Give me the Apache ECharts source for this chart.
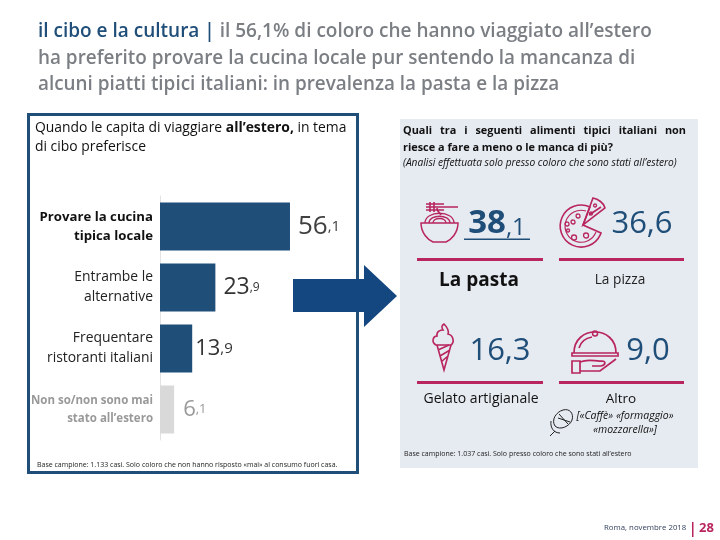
<!DOCTYPE html>
<html><head><meta charset="utf-8">
<script src="https://cdn.jsdelivr.net/npm/echarts@6/dist/echarts.min.js"></script>
<style>html,body{margin:0;padding:0;background:#fff}#c{width:720px;height:540px}</style>
</head><body><div id="c"></div>
<script>
const categories = ["Provare la cucina\ntipica locale","Entrambe le\nalternative","Frequentare\nristoranti italiani","Non so/non sono mai\nstato all’estero"];
const shareValues = [56.1,23.9,13.9,6.1];
const foodNames = ["La pasta","La pizza","Gelato artigianale","Altro"];
const foodValues = [38.1,36.6,16.3,9.0];
const titleLines = ["ha preferito provare la cucina locale pur sentendo la mancanza di","alcuni piatti tipici italiani: in prevalenza la pasta e la pizza"];

const NAVY='#1F4E79', PINK='#B8255F', FONT='"Open Sans"';
const it = v => v.toFixed(1).split('.');
const chart = echarts.init(document.getElementById('c'),null,{renderer:'canvas'});

const T=(x,y,text,size,fill,o={})=>({type:'text',x,y,z:5,style:Object.assign({text,fontFamily:FONT,fontSize:size,fill,align:o.align||'left',verticalAlign:'middle',fontWeight:o.weight||'normal',fontStyle:o.style||'normal'},o.extra||{})});
const P=(d,stroke,lw,fill)=>({type:'path',shape:{pathData:d},style:{stroke:stroke||'none',lineWidth:lw||1.4,fill:fill||'none'}});
const R=(x,y,w,h,fill,z)=>({type:'rect',z:z||1,shape:{x,y,width:w,height:h},style:{fill}});

const mctx=document.createElement('canvas').getContext('2d');
function justify(line,x0,x1,y,size,weight){
  mctx.font=weight+' '+size+'px "Open Sans"';
  const w=line.split(' ');const tot=w.reduce((a,s)=>a+mctx.measureText(s).width,0);
  const gap=(x1-x0-tot)/(w.length-1);let x=x0;
  return w.map(s=>{const e=T(x,y,s,size,'#111',{weight});x+=mctx.measureText(s).width+gap;return e;});
}
function bigNum(x,y,v,size,small,weight){
  const p=it(v);
  return {type:'text',x,y,z:5,style:{text:'{a|'+p[0]+'}{b|,'+p[1]+'}',align:'center',verticalAlign:'middle',rich:{
    a:{fontFamily:FONT,fontSize:size,fill:NAVY,fontWeight:weight||'normal',verticalAlign:'bottom'},
    b:{fontFamily:FONT,fontSize:small,fill:NAVY,verticalAlign:'bottom'}}}};
}

const valueRich={};
[[26,15,'#404040'],[23,12,'#333333'],[22,15,'#333333'],[22,13,'#999999']].forEach((s,i)=>{
  valueRich['a'+i]={fontFamily:FONT,fontSize:s[0],color:s[2]};
  valueRich['s'+i]={fontFamily:FONT,fontSize:s[1],color:s[2]};
});
const labelGaps=[8,8,3,9];

const icons=[
  P('M293 279 H364 V265 L397 296 L364 327 V312 H293 Z',null,0,'#14467F'),
  // pasta
  P('M426 204 H444 M426 207 H458 M426 210 H444 M430 202 V212 M434 202 V212 M437 208 C437 212 440 213 441 215',PINK,1.6),
  P('M421 223 H458 C458 233 451 240 446 242 H433 C428 240 421 233 421 223 Z',PINK,1.5),
  P('M425 223 C425 210 454 210 454 223 M429 223 C429 214 450 214 450 223 M433 223 C433 217 446 217 446 223',PINK,1.3),
  // pizza
  P('M590 207 A21 21 0 1 0 601 233 L583 225 Z',PINK,1.6),
  P('M586 211 A16 16 0 1 0 596 232',PINK,1.1),
  P('M583 225 L593 198 C598 199 604 203 605 208 Z M589 215 L601 207',PINK,1.6),
  P('M567 222 a2 2 0 1 0 .1 0 M574 235 a2.5 2.5 0 1 0 .1 0 M586 233 a2.5 2.5 0 1 0 .1 0 M573 220 a2 2 0 1 0 .1 0 M578 214 a2 2 0 1 0 .1 0 M568 229 a1.5 1.5 0 1 0 .1 0 M595 204 a1.5 1.5 0 1 0 .1 0 M591 212 a1.5 1.5 0 1 0 .1 0',PINK,1.3),
  // ice cream
  P('M437 345 L444 370 L451 345 M438 350 L449 345 M440 356 L450 350 M441 362 L448 356',PINK,1.6),
  P('M436 345 C431 342 433 336 437 336 C436 331 441 330 443 330 C441 327 442 325 444 324 C447 327 449 331 448 334 C453 335 455 342 451 345 Z',PINK,1.6),
  // cloche
  P('M574 353 C574 325 616 325 616 353 M579 348 C581 341 586 338 592 337',PINK,1.7),
  P('M572 353 H618 V356 H572 Z',PINK,1.7),
  P('M595 331 a2.5 2.5 0 1 0 .1 0',PINK,1.5),
  P('M572 361 H580 V373 H572 Z M580 362 C590 358 595 362 602 361 C606 361 606 365 601 366 H592 M580 371 H600 L616 359',PINK,1.7),
  // mic
  P('M555 426 C551 420 556 412 563 410 C570 408 574 414 572 420 C570 426 560 431 555 426 Z M558 418 L570 422 M559 414 L568 424',"#222",1),
  P('M551 421 C550 428 554 433 560 433 M555 431 L550 436',"#222",1)
];

const option={
  animation:false,
  backgroundColor:'#fff',
  grid:{left:160,top:196,width:231.7,height:244},
  xAxis:{type:'value',min:0,max:100,show:false},
  yAxis:{type:'category',inverse:true,data:categories,
    axisTick:{show:false},
    axisLine:{show:true,lineStyle:{color:'#E3E3E3',width:1}},
    axisLabel:{margin:7,align:'right',
      formatter:(v,i)=>v.split('\n').map(l=>'{'+(i===0?'b':i===3?'g':'n')+'|'+l+'}').join('\n'),
      rich:{
        b:{fontFamily:FONT,fontSize:13.2,fontWeight:'bold',color:'#111',lineHeight:19},
        n:{fontFamily:FONT,fontSize:13.9,color:'#222',lineHeight:20},
        g:{fontFamily:FONT,fontSize:11.5,fontWeight:'bold',color:'#999',lineHeight:18}
      }}},
  series:[{type:'bar',barWidth:48,z:3,
    data:shareValues.map((v,i)=>({value:v,itemStyle:{color:i===3?'#D9D9D9':NAVY},label:{distance:labelGaps[i]}})),
    label:{show:true,position:'right',rich:valueRich,
      formatter:p=>{const s=it(p.value);return '{a'+p.dataIndex+'|'+s[0]+'}{s'+p.dataIndex+'|,'+s[1]+'}';}}
  },{type:'custom',coordinateSystem:'none',data:[0],z:6,silent:true,
    renderItem:()=>({type:'group',children:icons})
  }],
  graphic:{elements:[
    {type:'rect',z:0,shape:{x:28.5,y:114.5,width:329,height:358},style:{fill:'#fff',stroke:NAVY,lineWidth:3}},
    R(400,119,298,349,'#E6EAF1',0),
    {type:'text',x:38,y:32,z:5,style:{text:'{n|il cibo e la cultura | }{g|il 56,1% di coloro che hanno viaggiato all’estero}',verticalAlign:'middle',
      rich:{n:{fontFamily:FONT,fontSize:19,fill:NAVY,fontWeight:'600'},g:{fontFamily:FONT,fontSize:19,fill:'#7B7F84',fontWeight:'600'}}}},
    T(38,59,titleLines[0],18.9,'#7B7F84',{weight:'600'}),
    T(38,85,titleLines[1],18.9,'#7B7F84',{weight:'600'}),
    {type:'text',x:35,y:128,z:5,style:{text:'{n|Quando le capita di viaggiare }{b|all’estero,}{n| in tema}',verticalAlign:'middle',
      rich:{n:{fontFamily:FONT,fontSize:13.9,fill:'#111'},b:{fontFamily:FONT,fontSize:13.9,fill:'#111',fontWeight:'bold'}}}},
    T(35,147,'di cibo preferisce',13.9,'#111'),
    T(37,465,'Base campione: 1.133 casi. Solo coloro che non hanno risposto «mai» al consumo fuori casa.',7,'#222'),
    ...justify('Quali tra i seguenti alimenti tipici italiani non',403,686,131,10.9,'bold'),
    T(403,148,'riesce a fare a meno o le manca di più?',10.9,'#111',{weight:'bold'}),
    T(403,163,'(Analisi effettuata solo presso coloro che sono stati all’estero)',10.2,'#111',{style:'italic'}),
    R(417,258,126,3,PINK,3),R(559,258,125,3,PINK,3),R(417,381,126,3,PINK,3),R(559,381,125,3,PINK,3),
    bigNum(497,224,foodValues[0],33,24,'bold'),
    R(464,238.5,66,1.5,NAVY,5),
    bigNum(642,224,foodValues[1],31,31),
    bigNum(500,351,foodValues[2],31,31),
    bigNum(648,351,foodValues[3],31,31),
    T(479,281,foodNames[0],19,'#111',{align:'center',weight:'bold'}),
    T(620,280,foodNames[1],13.7,'#222',{align:'center'}),
    T(481,399,foodNames[2],14,'#111',{align:'center'}),
    T(621,399,foodNames[3],13.5,'#111',{align:'center'}),
    T(625,416,'[«Caffè» «formaggio»',10.5,'#111',{align:'center',style:'italic'}),
    T(625,430,'«mozzarella»]',10.5,'#111',{align:'center',style:'italic'}),
    T(404,454,'Base campione: 1.037 casi. Solo presso coloro che sono stati all’estero',7,'#222'),
    T(604,528,'Roma, novembre 2018',7.8,'#33415C'),
    R(692,522,1.5,15,PINK,3),
    T(699,528,'28',13,PINK,{weight:'bold'})
  ]}
};
chart.setOption(option);
</script></body></html>
